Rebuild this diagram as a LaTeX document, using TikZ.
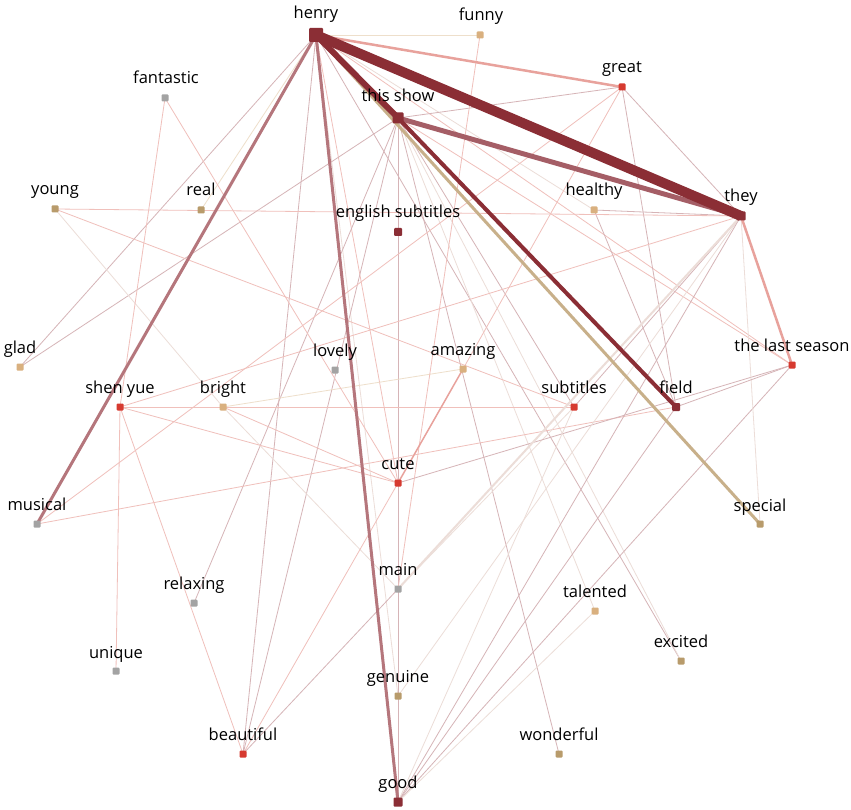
\documentclass[tikz,border=0pt]{standalone}
\usepackage{fontspec}
\setmainfont{Open Sans}
\usetikzlibrary{backgrounds}
\definecolor{cDk}{HTML}{8B2E35}
\definecolor{cRd}{HTML}{D63A30}
\definecolor{cTan}{HTML}{D9B07F}
\definecolor{cKh}{HTML}{B89B6B}
\definecolor{cGr}{HTML}{A3A3A3}
\definecolor{cMid}{HTML}{A55E66}
\definecolor{cRose}{HTML}{B5767C}
\definecolor{cSal}{HTML}{E8A29C}
\definecolor{cTanE}{HTML}{C8B08A}
\definecolor{cM}{HTML}{D6B4B7}
\definecolor{cS}{HTML}{F0C0BB}
\definecolor{cL}{HTML}{ECDDD8}
\definecolor{cLT}{HTML}{EEDFCB}
\begin{document}
\begin{tikzpicture}[x=1pt,y=-1pt,
  sq/.style={rectangle, rounded corners=1pt, inner sep=0pt, minimum size=7pt},
  dk/.style={sq, fill=cDk},
  rd/.style={sq, fill=cRd},
  tn/.style={sq, fill=cTan},
  kh/.style={sq, fill=cKh},
  gy/.style={sq, fill=cGr},
  lb/.style={anchor=base, inner sep=0pt, font=\fontsize{16.5}{19}\selectfont, text=black},
  wm/.style={line width=0.8pt, draw=cM},
  ws/.style={line width=0.8pt, draw=cS},
  wl/.style={line width=0.8pt, draw=cL},
  wt/.style={line width=0.8pt, draw=cLT}]
\useasboundingbox (0,0) rectangle (851,810);

% nodes
\node[dk, minimum size=14pt] (henry) at (316,35) {};
\node[tn] (funny) at (480,35) {};
\node[rd] (great) at (622,87) {};
\node[gy] (fantastic) at (165,98) {};
\node[dk, minimum size=11pt] (thisshow) at (398,118) {};
\node[kh] (young) at (55,209) {};
\node[kh] (real) at (201,210) {};
\node[tn] (healthy) at (594,210) {};
\node[dk, minimum size=9pt] (they) at (741,216) {};
\node[dk, minimum size=8pt] (engsub) at (398,232) {};
\node[tn] (glad) at (20,367) {};
\node[gy] (lovely) at (335,370) {};
\node[tn] (amazing) at (463,369) {};
\node[rd] (lastseason) at (792,365) {};
\node[rd] (shenyue) at (120,407) {};
\node[tn] (bright) at (223,407) {};
\node[rd] (subtitles) at (574,407) {};
\node[dk, minimum size=8pt] (field) at (676,407) {};
\node[rd] (cute) at (398,483) {};
\node[gy] (musical) at (37,524) {};
\node[kh] (special) at (760,524) {};
\node[gy] (main) at (398,589) {};
\node[gy] (relaxing) at (194,603) {};
\node[tn] (talented) at (595,611) {};
\node[kh] (excited) at (681,661) {};
\node[gy] (unique) at (116,671) {};
\node[kh] (genuine) at (398,696) {};
\node[rd] (beautiful) at (243,754) {};
\node[kh] (wonderful) at (559,754) {};
\node[dk, minimum size=9pt] (good) at (398,802) {};

% labels
\node[lb] (t-henry) at (316,19) {henry};
\node[lb] (t-funny) at (481,21) {funny};
\node[lb] (t-great) at (622,73) {great};
\node[lb] (t-fantastic) at (166,84) {fantastic};
\node[lb] (t-thisshow) at (398,102) {this show};
\node[lb] (t-young) at (55,195) {young};
\node[lb] (t-real) at (201,196) {real};
\node[lb] (t-healthy) at (594,196) {healthy};
\node[lb] (t-they) at (741,202) {they};
\node[lb] (t-engsub) at (398,218) {english subtitles};
\node[lb] (t-glad) at (20,353) {glad};
\node[lb] (t-lovely) at (335,356) {lovely};
\node[lb] (t-amazing) at (463,355) {amazing};
\node[lb] (t-lastseason) at (792,351) {the last season};
\node[lb] (t-shenyue) at (120,393) {shen yue};
\node[lb] (t-bright) at (223,393) {bright};
\node[lb] (t-subtitles) at (574,393) {subtitles};
\node[lb] (t-field) at (676,393) {field};
\node[lb] (t-cute) at (398,469) {cute};
\node[lb] (t-musical) at (37,510) {musical};
\node[lb] (t-special) at (760,511) {special};
\node[lb] (t-main) at (398,575) {main};
\node[lb] (t-relaxing) at (194,589) {relaxing};
\node[lb] (t-talented) at (595,597) {talented};
\node[lb] (t-excited) at (681,647) {excited};
\node[lb] (t-unique) at (116,658) {unique};
\node[lb] (t-genuine) at (398,682) {genuine};
\node[lb] (t-beautiful) at (243,740) {beautiful};
\node[lb] (t-wonderful) at (559,740) {wonderful};
\node[lb] (t-good) at (398,788) {good};

\begin{scope}[on background layer]
\fill[white] (0,0) rectangle (851,810);
% thin edges
\draw[wt] (henry.center) -- (funny.center);
\draw[wm] (henry.center) -- (glad.center);
\draw[wt] (henry.center) -- (real.center);
\draw[wm] (henry.center) -- (beautiful.center);
\draw[ws] (henry.center) -- (cute.center);
\draw[wl] (henry.center) -- (genuine.center);
\draw[ws] (henry.center) -- (lastseason.center);
\draw[wm] (henry.center) -- (excited.center);
\draw[wl] (henry.center) -- (healthy.center);
\draw[wm] (thisshow.center) -- (glad.center);
\draw[wm] (thisshow.center) -- (relaxing.center);
\draw[wm] (thisshow.center) -- (wonderful.center);
\draw[wl] (thisshow.center) -- (excited.center);
\draw[wm] (thisshow.center) -- (great.center);
\draw[wm] (thisshow.center) -- (engsub.center);
\draw[wm] (engsub.center) -- (cute.center);
\draw[wm] (cute.center) -- (main.center);
\draw[wm] (main.center) -- (genuine.center);
\draw[wm] (genuine.center) -- (good.center);
\draw[wm] (thisshow.center) -- (beautiful.center);
\draw[wm] (thisshow.center) -- (subtitles.center);
\draw[wl] (thisshow.center) -- (talented.center);
\draw[ws] (thisshow.center) -- (lastseason.center);
\draw[wm] (great.center) -- (they.center);
\draw[wm] (great.center) -- (field.center);
\draw[ws] (great.center) -- (amazing.center);
\draw[ws] (great.center) -- (musical.center);
\draw[wm] (healthy.center) -- (they.center);
\draw[wm] (healthy.center) -- (field.center);
\draw[ws] (young.center) -- (they.center);
\draw[wl] (young.center) -- (bright.center);
\draw[ws] (young.center) -- (subtitles.center);
\draw[wl] (bright.center) -- (main.center);
\draw[wt] (bright.center) -- (amazing.center);
\draw[ws] (bright.center) -- (cute.center);
\draw[ws] (shenyue.center) -- (they.center);
\draw[ws] (shenyue.center) -- (subtitles.center);
\draw[ws] (shenyue.center) -- (cute.center);
\draw[ws] (shenyue.center) -- (unique.center);
\draw[ws] (shenyue.center) -- (beautiful.center);
\draw[ws] (fantastic.center) -- (shenyue.center);
\draw[ws] (fantastic.center) -- (cute.center);
\draw[ws] (musical.center) -- (field.center);
\draw[wl] (main.center) -- (subtitles.center);
\draw[wm] (main.center) -- (beautiful.center);
\draw[ws] (cute.center) -- (beautiful.center);
\draw[wm] (cute.center) -- (lastseason.center);
\draw[wl] (genuine.center) -- (they.center);
\draw[wm] (good.center) -- (they.center);
\draw[wm] (good.center) -- (field.center);
\draw[wm] (good.center) -- (lastseason.center);
\draw[wl] (good.center) -- (talented.center);
\draw[wl] (good.center) -- (subtitles.center);
\draw[wl] (they.center) -- (special.center);
\draw[wm] (they.center) -- (subtitles.center);
\draw[wm] (lastseason.center) -- (field.center);
\draw[ws] (funny.center) -- (main.center);
% medium / thick edges
\draw[line width=2pt, draw=cL] (main.center) -- (they.center);
\draw[line width=1.5pt, draw=cSal] (amazing.center) -- (cute.center);
\draw[line width=2.5pt, draw=cSal] (henry.center) -- (great.center);
\draw[line width=2.5pt, draw=cSal] (they.center) -- (lastseason.center);
\draw[line width=3pt, draw=cRose] (henry.center) -- (musical.center);
\draw[line width=3pt, draw=cRose] (henry.center) -- (good.center);
\draw[line width=3pt, draw=cTanE] (henry.center) -- (special.center);
\draw[line width=5pt, draw=cMid] (thisshow.center) -- (they.center);
\draw[line width=4pt, draw=cDk] (thisshow.center) -- (field.center);
\draw[line width=6pt, draw=cDk] (henry.center) -- (thisshow.center);
\draw[line width=10pt, draw=cDk] (henry.center) -- (they.center);
\end{scope}
\end{tikzpicture}
\end{document}
